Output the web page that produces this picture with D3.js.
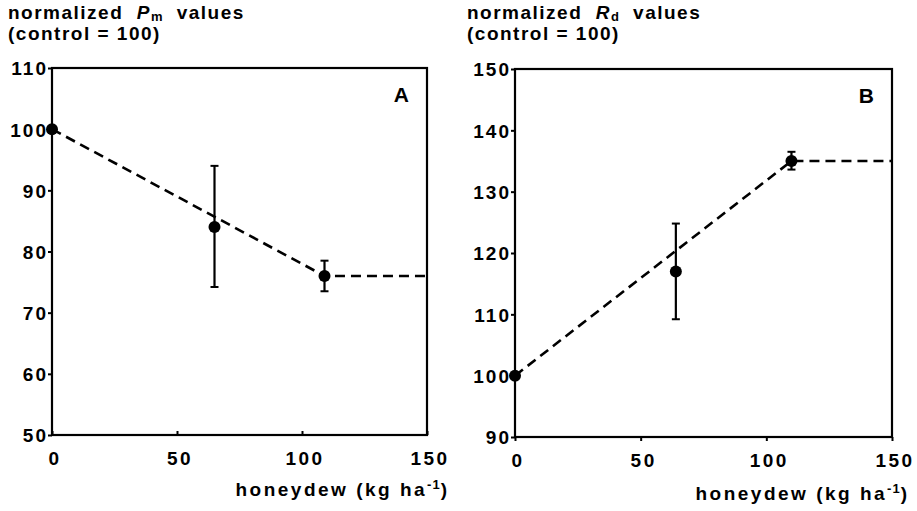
<!DOCTYPE html>
<html><head><meta charset="utf-8">
<script src="https://cdn.jsdelivr.net/npm/d3@7"></script>
<style>
body{margin:0;background:#fff;}
svg{display:block;}
text{font-family:"Liberation Sans",Arial,Helvetica,sans-serif;font-weight:bold;fill:#000;}
</style></head>
<body><svg id="c" width="917" height="511"></svg>
<script>
// ---- data ----
const xTicks = [0, 50, 100, 150];
const yTicksA = [50, 60, 70, 80, 90, 100, 110];
const yTicksB = [90, 100, 110, 120, 130, 140, 150];

const doseA = [0, 65, 109];
const meanA = [100, 84, 76];
const hiA = [100, 94, 78.5];
const loA = [100, 74.2, 73.5];
const fitXA = [0, 109, 150];
const fitYA = [100, 76, 76];

const doseB = [0, 64, 110];
const meanB = [100, 117, 135];
const hiB = [100, 124.8, 136.5];
const loB = [100, 109.2, 133.6];
const fitXB = [0, 110, 150];
const fitYB = [100, 135, 135];

const svg = d3.select("#c");

function panel(o) {
  const x = d3.scaleLinear().domain([0, 150]).range([o.x0, o.x1]);
  const y = d3.scaleLinear().domain(o.yDom).range([o.y1, o.y0]);
  const g = svg.append("g");

  // frame
  g.append("rect").attr("x", o.x0).attr("y", o.y0)
    .attr("width", o.x1 - o.x0).attr("height", o.y1 - o.y0)
    .attr("fill", "none").attr("stroke", "#000").attr("stroke-width", 2.2);

  // left axis
  const ya = g.append("g").attr("transform", `translate(${o.x0},0)`)
    .call(d3.axisLeft(y).tickValues(o.yTicks).tickSize(4).tickPadding(0).tickFormat(d3.format("d")));
  ya.select(".domain").remove();
  ya.selectAll(".tick line").attr("stroke", "#000").attr("stroke-width", 2);
  ya.selectAll(".tick text").style("font-size", "19px").style("letter-spacing", "2px")
    .attr("dy", "0.36em");

  // bottom axis
  const xa = g.append("g").attr("transform", `translate(0,${o.y1})`)
    .call(d3.axisBottom(x).tickValues(xTicks).tickSize(o.xTickIn ? -4 : 4).tickPadding(o.xTickIn ? 16.5 : 12.5).tickFormat(d3.format("d")));
  xa.select(".domain").remove();
  xa.selectAll(".tick line").attr("stroke", "#000").attr("stroke-width", 2);
  xa.selectAll(".tick text").style("font-size", "19px").style("letter-spacing", "2.5px")
    .attr("dx", "2.5px");

  // fitted dashed line
  const line = d3.line().x(d => x(d[0])).y(d => y(d[1]));
  g.append("path").datum(o.fitX.map((v, i) => [v, o.fitY[i]]))
    .attr("d", line).attr("fill", "none").attr("stroke", "#000")
    .attr("stroke-width", 2.6).attr("stroke-dasharray", "10,6");

  // error bars
  const eb = g.append("g");
  o.dose.forEach((d, i) => {
    if (o.hi[i] === o.lo[i]) return;
    eb.append("line").attr("x1", x(d)).attr("x2", x(d)).attr("y1", y(o.hi[i])).attr("y2", y(o.lo[i]))
      .attr("stroke", "#000").attr("stroke-width", 2.2);
    [o.hi[i], o.lo[i]].forEach(v => {
      eb.append("line").attr("x1", x(d) - 4).attr("x2", x(d) + 4).attr("y1", y(v)).attr("y2", y(v))
        .attr("stroke", "#000").attr("stroke-width", 2);
    });
  });

  // points
  g.selectAll("circle.pt").data(o.dose).enter().append("circle")
    .attr("cx", d => x(d)).attr("cy", (d, i) => y(o.mean[i])).attr("r", 6).attr("fill", "#000");

  // panel letter
  g.append("text").attr("x", o.x1 - 18).attr("y", o.y0 + 34).attr("text-anchor", "end")
    .style("font-size", "21px").text(o.letter);

  // x title
  const xt = g.append("text").attr("x", o.xTitleX + 2.5).attr("y", o.xTitleY).attr("text-anchor", "end")
    .style("font-size", "19px").style("letter-spacing", "2.5px");
  xt.append("tspan").text("honeydew (kg ha");
  xt.append("tspan").attr("dy", -7).style("font-size", "13px").style("letter-spacing", "1px").text("-1");
  xt.append("tspan").attr("dy", 7).text(")");

  // y title
  const t1 = g.append("text").attr("x", o.titleX).attr("y", 18.5).style("font-size", "19px").style("letter-spacing", "1.5px").attr("xml:space", "preserve");
  t1.append("tspan").text("normalized  ");
  t1.append("tspan").style("font-style", "italic").text(o.sym);
  t1.append("tspan").attr("dy", 2).style("font-size", "13px").style("letter-spacing", "0.5px").text(o.sub);
  t1.append("tspan").attr("dy", -2).text("  values");
  g.append("text").attr("x", o.titleX).attr("y", 40).style("font-size", "19px").style("letter-spacing", "1.5px")
    .text("(control = 100)");
}

panel({x0: 52, x1: 427, y0: 68, y1: 435, yDom: [50, 110], yTicks: yTicksA,
  dose: doseA, mean: meanA, hi: hiA, lo: loA, fitX: fitXA, fitY: fitYA,
  letter: "A", sym: "P", sub: "m", titleX: 8, xTitleX: 447, xTitleY: 496, xTickIn: true});
panel({x0: 515, x1: 892, y0: 69, y1: 437, yDom: [90, 150], yTicks: yTicksB,
  dose: doseB, mean: meanB, hi: hiB, lo: loB, fitX: fitXB, fitY: fitYB,
  letter: "B", sym: "R", sub: "d", titleX: 467, xTitleX: 907, xTitleY: 500, xTickIn: false});
</script></body></html>
